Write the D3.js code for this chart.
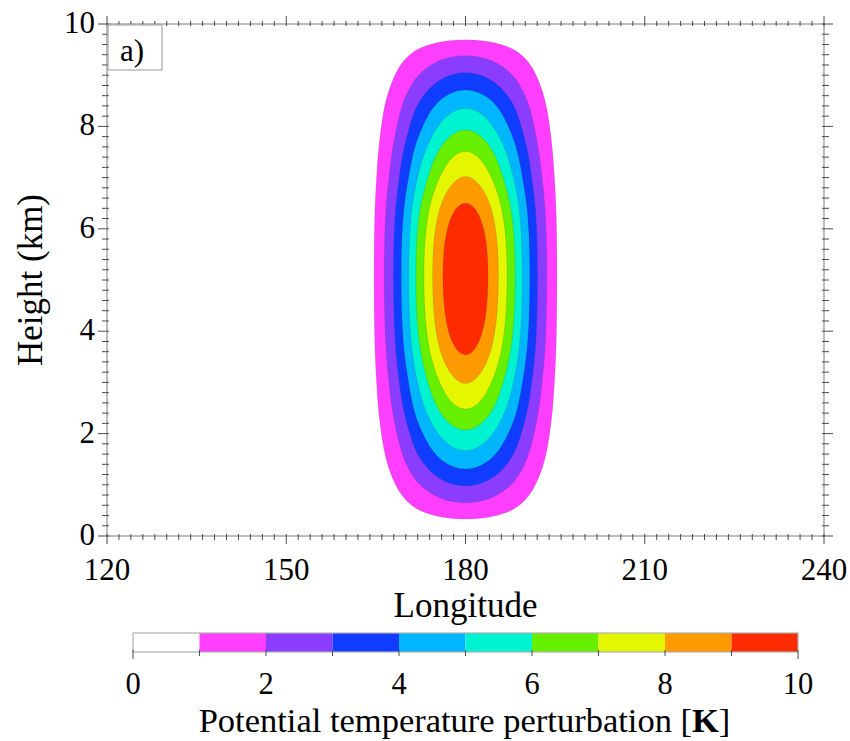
<!DOCTYPE html>
<html>
<head>
<meta charset="utf-8">
<script src="https://cdn.jsdelivr.net/npm/d3@7"></script>
<style>
  html, body { margin: 0; padding: 0; background: #fff; }
  text { font-family: "Liberation Serif", "Times New Roman", serif; fill: #000; }
</style>
</head>
<body>
<svg id="chart" width="850" height="741"></svg>
<script>
// Contour levels of the potential temperature perturbation (K) and their fill colours
const levels = [0, 1, 2, 3, 4, 5, 6, 7, 8, 9, 10];
const levelColors = ["#ffffff", "#ff3eff", "#8a3cff", "#0f3cff", "#00b7ff",
                     "#00f3d0", "#66f000", "#e4f700", "#ff9a00", "#ff2b00"];

// Peak perturbation of the warm bubble (K) and its centre longitude
const peakPerturbation = 10;
const centreLon = 180;

// Half-widths (deg longitude) of the 1..9 K contours at mid-height
const halfWidths = [15.3, 13.6, 12.05, 10.75, 9.5, 8.3, 6.95, 5.5, 3.77];
// Heights (km) where the 1..9 K contours cross the centre column, below and above the core
const lowerHeights = [0.33, 0.65, 0.98, 1.31, 1.67, 2.07, 2.48, 2.98, 3.54];
const upperHeights = [9.69, 9.38, 9.05, 8.71, 8.35, 7.93, 7.51, 7.02, 6.50];
const coreHeight = 5;

// Axis ticks
const lonTicks = [120, 150, 180, 210, 240];
const heightTicks = [0, 2, 4, 6, 8, 10];
const barTicks = [0, 2, 4, 6, 8, 10];

// ---------------------------------------------------------------
const svg = d3.select("#chart");
const margin = { left: 107, right: 26, top: 24, bottom: 205 };
const W = 850, H = 741;
const x = d3.scaleLinear().domain([120, 240]).range([margin.left, W - margin.right]);
const y = d3.scaleLinear().domain([0, 10]).range([H - margin.bottom, margin.top]);

// Natural cubic spline through the contour crossings; linear beyond the end knots
function splineProfile(xs, ys) {
  const n = xs.length, h = [], M = new Array(n).fill(0);
  for (let i = 0; i < n - 1; i++) h.push(xs[i + 1] - xs[i]);
  // tridiagonal system for interior second derivatives
  const a = [], b = [], c = [], r = [];
  for (let i = 1; i < n - 1; i++) {
    a.push(h[i - 1]); b.push(2 * (h[i - 1] + h[i])); c.push(h[i]);
    r.push(6 * ((ys[i + 1] - ys[i]) / h[i] - (ys[i] - ys[i - 1]) / h[i - 1]));
  }
  const k = r.length;
  for (let i = 1; i < k; i++) {
    const w = a[i] / b[i - 1];
    b[i] -= w * c[i - 1]; r[i] -= w * r[i - 1];
  }
  const sol = new Array(k);
  sol[k - 1] = r[k - 1] / b[k - 1];
  for (let i = k - 2; i >= 0; i--) sol[i] = (r[i] - c[i] * sol[i + 1]) / b[i];
  for (let i = 0; i < k; i++) M[i + 1] = sol[i];
  const s0 = (ys[1] - ys[0]) / h[0] - h[0] * (2 * M[0] + M[1]) / 6;
  const sN = (ys[n - 1] - ys[n - 2]) / h[n - 2] + h[n - 2] * (M[n - 2] + 2 * M[n - 1]) / 6;
  return function (t) {
    if (t <= xs[0]) return ys[0] + s0 * (t - xs[0]);
    if (t >= xs[n - 1]) return ys[n - 1] + sN * (t - xs[n - 1]);
    const i = Math.min(n - 2, d3.bisectRight(xs, t) - 1);
    const A = (xs[i + 1] - t) / h[i], B = (t - xs[i]) / h[i];
    return A * ys[i] + B * ys[i + 1]
         + ((A * A * A - A) * M[i] + (B * B * B - B) * M[i + 1]) * h[i] * h[i] / 6;
  };
}

const fracs = levels.slice(1, 10).map(l => l / peakPerturbation); // 0.1 .. 0.9
const fracsDown = fracs.slice().reverse();                        // 0.9 .. 0.1

// Horizontal shape: 1 at the centre, falling through each contour's half-width
const hx = halfWidths.map(w => -w).concat([0], halfWidths.slice().reverse());
const hy = fracs.concat([1], fracsDown);
const horiz = splineProfile(hx, hy);

// Vertical shape: 0 at ground and lid, 1 at the core height
const vx = [0].concat(lowerHeights, [coreHeight], upperHeights.slice().reverse(), [10]);
const vy = [0].concat(fracs, [1], fracsDown, [0]);
const vert = splineProfile(vx, vy);

// Field on a regular grid
const dLon = 0.2, dZ = 0.02;
const nx = Math.round(120 / dLon) + 1, nz = Math.round(10 / dZ) + 1;
const hv = d3.range(nx).map(i => Math.max(0, horiz(120 + i * dLon - centreLon)));
const vv = d3.range(nz).map(j => Math.max(0, vert(j * dZ)));
const field = new Float64Array(nx * nz);
for (let j = 0; j < nz; j++)
  for (let i = 0; i < nx; i++)
    field[j * nx + i] = peakPerturbation * hv[i] * vv[j];

const contours = d3.contours().size([nx, nz]).thresholds(levels.slice(1, 10))(field);

const gridProj = d3.geoTransform({
  point: function (gx, gy) {
    this.stream.point(x(120 + (gx - 0.5) * dLon), y((gy - 0.5) * dZ));
  }
});
const path = d3.geoPath(gridProj);

svg.append("rect").attr("width", W).attr("height", H).attr("fill", "#fff");

const plot = svg.append("g");
plot.append("clipPath").attr("id", "plotclip").append("rect")
  .attr("x", x(120)).attr("y", y(10)).attr("width", x(240) - x(120)).attr("height", y(0) - y(10));

plot.append("g").attr("clip-path", "url(#plotclip)")
  .selectAll("path").data(contours).join("path")
  .attr("d", path)
  .attr("fill", d => levelColors[levels.indexOf(d.value)])
  .attr("stroke", "rgba(60,60,60,0.3)")
  .attr("stroke-width", 0.5);

// Frame
const frame = svg.append("g");
frame.append("rect")
  .attr("x", x(120)).attr("y", y(10))
  .attr("width", x(240) - x(120)).attr("height", y(0) - y(10))
  .attr("fill", "none").attr("stroke", "#a8a8a8").attr("stroke-width", 1.5);

// Ticks on all four sides: minor every 2 deg / 0.2 km
const tickColor = "#4a4a4a";
const minorLon = d3.range(120, 240.001, 2);
const minorZ = d3.range(0, 10.001, 0.2);
const isMajorLon = v => Math.abs(v % 30) < 1e-6;
const isMajorZ = v => Math.abs(v / 2 - Math.round(v / 2)) < 1e-6;
const tg = svg.append("g").attr("stroke", tickColor).attr("stroke-width", 1);
minorLon.forEach(v => {
  const big = isMajorLon(v);
  tg.append("line").attr("x1", x(v)).attr("x2", x(v))
    .attr("y1", y(0) - 2).attr("y2", y(0) + (big ? 8 : 4));
  tg.append("line").attr("x1", x(v)).attr("x2", x(v))
    .attr("y1", y(10) + 2).attr("y2", y(10) - (big ? 8 : 3));
});
minorZ.forEach(v => {
  const big = isMajorZ(v);
  tg.append("line").attr("y1", y(v)).attr("y2", y(v))
    .attr("x1", x(120) + 2).attr("x2", x(120) - (big ? 9 : 5));
  tg.append("line").attr("y1", y(v)).attr("y2", y(v))
    .attr("x1", x(240) - 2).attr("x2", x(240) + (big ? 9 : 5));
});

// Tick labels
svg.append("g").selectAll("text").data(lonTicks).join("text")
  .attr("x", d => x(d)).attr("y", y(0) + 44)
  .attr("text-anchor", "middle").attr("font-size", 31)
  .text(d => d);
svg.append("g").selectAll("text").data(heightTicks).join("text")
  .attr("x", x(120) - 12).attr("y", d => y(d) + 9)
  .attr("text-anchor", "end").attr("font-size", 31)
  .text(d => d);

// Axis titles
svg.append("text").attr("x", (x(120) + x(240)) / 2).attr("y", 617)
  .attr("text-anchor", "middle").attr("font-size", 35).text("Longitude");
svg.append("text")
  .attr("transform", `translate(42,${(y(0) + y(10)) / 2}) rotate(-90)`)
  .attr("text-anchor", "middle").attr("font-size", 35).text("Height (km)");

// Panel label
svg.append("rect").attr("x", x(120) + 1).attr("y", y(10) + 1).attr("width", 54).attr("height", 45)
  .attr("fill", "#fff").attr("stroke", "#a8a8a8").attr("stroke-width", 1.2);
svg.append("text").attr("x", x(120) + 13).attr("y", y(10) + 37)
  .attr("font-size", 31).text("a)");

// Colour bar
const cb = d3.scaleLinear().domain([0, 10]).range([133, 798]);
const cbTop = 633, cbH = 19;
const cbg = svg.append("g");
cbg.selectAll("rect.seg").data(d3.range(10)).join("rect").attr("class", "seg")
  .attr("x", d => cb(levels[d])).attr("y", cbTop)
  .attr("width", d => cb(levels[d + 1]) - cb(levels[d])).attr("height", cbH)
  .attr("fill", d => levelColors[d]);
cbg.append("rect").attr("x", cb(0)).attr("y", cbTop).attr("width", cb(10) - cb(0)).attr("height", cbH)
  .attr("fill", "none").attr("stroke", "#b0b0b0").attr("stroke-width", 1.2);
cbg.selectAll("line").data(levels).join("line")
  .attr("x1", d => cb(d)).attr("x2", d => cb(d))
  .attr("y1", cbTop + cbH - 2).attr("y2", d => cbTop + cbH + (d === 0 || d === 10 ? 7 : 4))
  .attr("stroke", tickColor).attr("stroke-width", 1);
cbg.selectAll("text").data(barTicks).join("text")
  .attr("x", d => cb(d)).attr("y", 694)
  .attr("text-anchor", "middle").attr("font-size", 30.5).text(d => d);

const ttl = svg.append("text").attr("x", (cb(0) + cb(10)) / 2 - 1).attr("y", 732)
  .attr("text-anchor", "middle").attr("font-size", 34.5);
ttl.append("tspan").text("Potential temperature perturbation [");
ttl.append("tspan").attr("font-weight", "bold").text("K");
ttl.append("tspan").text("]");
</script>
</body>
</html>
